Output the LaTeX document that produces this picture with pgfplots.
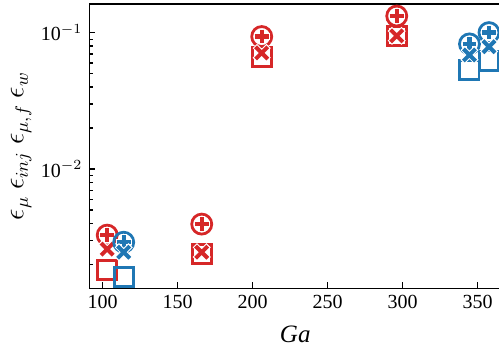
\documentclass[border=0pt]{standalone}
\usepackage{fontspec}
\setmainfont{Liberation Serif}
\usepackage{pgfplots}
\pgfplotsset{compat=1.18}
\definecolor{tred}{HTML}{D62728}
\definecolor{tblue}{HTML}{1F77B4}

\pgfplotstableread{
x    mu       inj      muf      w
103  0.00327  0.00327  0.00258  0.00181
166  0.00394  0.00394  0.00245  0.00237
206  0.0940   0.0940   0.0713   0.0670
296  0.133    0.133    0.0951   0.0950
}\redtab
\pgfplotstableread{
x      mu       inj      muf      w
114    0.00290  0.00290  0.00245  0.00161
344.5  0.0830   0.0830   0.0689   0.0534
357.5  0.1005   0.1005   0.0792   0.0625
}\bluetab

\begin{document}
\begin{tikzpicture}
\begin{axis}[name=ax, scale only axis, width=205.75pt, height=142.15pt,
  xmin=91.2, xmax=365.5, ymode=log, ymin=0.00133, ymax=0.163,
  xtick={100,150,200,250,300,350},
  ytick={0.01,0.1}, yticklabels={10$^{-2}$,10$^{-1}$},
  minor ytick={0.002,0.003,0.004,0.005,0.006,0.007,0.008,0.009,0.02,0.03,0.04,0.05,0.06,0.07,0.08,0.09},
  tick align=inside, tick pos=left,
  major tick length=3pt, minor tick length=1.8pt,
  every tick/.style={black, line width=0.6pt},
  axis line style={line width=0.8pt},
  /pgf/number format/assume math mode=true,
  tick label style={font=\fontsize{10}{12}\selectfont},
  xlabel={\textit{Ga}},
  every axis x label/.style={at={(axis description cs:0.5,0)}, anchor=base, yshift=-27pt, font=\fontsize{12.5}{14}\selectfont},
  ylabel={$\epsilon_\mu\ \epsilon_{inj}\ \epsilon_{\mu,f}\ \epsilon_w$},
  every axis y label/.style={at={(axis description cs:-0.166,0.5)}, rotate=90, anchor=center, font=\fontsize{13.5}{16}\selectfont},
  clip=false,
]
% red
\addplot[only marks, tred, mark=o, mark size=5.0pt, mark options={line width=1.4pt}] table[x=x,y=mu]{\redtab};
\addplot[only marks, tred, mark=square, mark size=4.8pt, mark options={line width=1.4pt}] table[x=x,y=w]{\redtab};
\addplot[only marks, white, mark=+, mark size=3.9pt, mark options={line width=3.2pt}] table[x=x,y=inj]{\redtab};
\addplot[only marks, tred, mark=+, mark size=3.4pt, mark options={line width=2.2pt}] table[x=x,y=inj]{\redtab};
\addplot[only marks, white, mark=x, mark size=4.9pt, mark options={line width=3pt}] table[x=x,y=muf]{\redtab};
\addplot[only marks, tred, mark=x, mark size=4.3pt, mark options={line width=2pt}] table[x=x,y=muf]{\redtab};
% blue
\addplot[only marks, tblue, mark=o, mark size=5.0pt, mark options={line width=1.4pt}] table[x=x,y=mu]{\bluetab};
\addplot[only marks, tblue, mark=square, mark size=4.8pt, mark options={line width=1.4pt}] table[x=x,y=w]{\bluetab};
\addplot[only marks, white, mark=+, mark size=3.9pt, mark options={line width=3.2pt}] table[x=x,y=inj]{\bluetab};
\addplot[only marks, tblue, mark=+, mark size=3.4pt, mark options={line width=2.2pt}] table[x=x,y=inj]{\bluetab};
\addplot[only marks, white, mark=x, mark size=4.9pt, mark options={line width=3pt}] table[x=x,y=muf]{\bluetab};
\addplot[only marks, tblue, mark=x, mark size=4.3pt, mark options={line width=2pt}] table[x=x,y=muf]{\bluetab};
\end{axis}
\pgfresetboundingbox
\path[use as bounding box] ([xshift=-44.75pt, yshift=-32.85pt]ax.south west) rectangle ([xshift=204.75pt, yshift=2pt]ax.north west);
\end{tikzpicture}
\end{document}
